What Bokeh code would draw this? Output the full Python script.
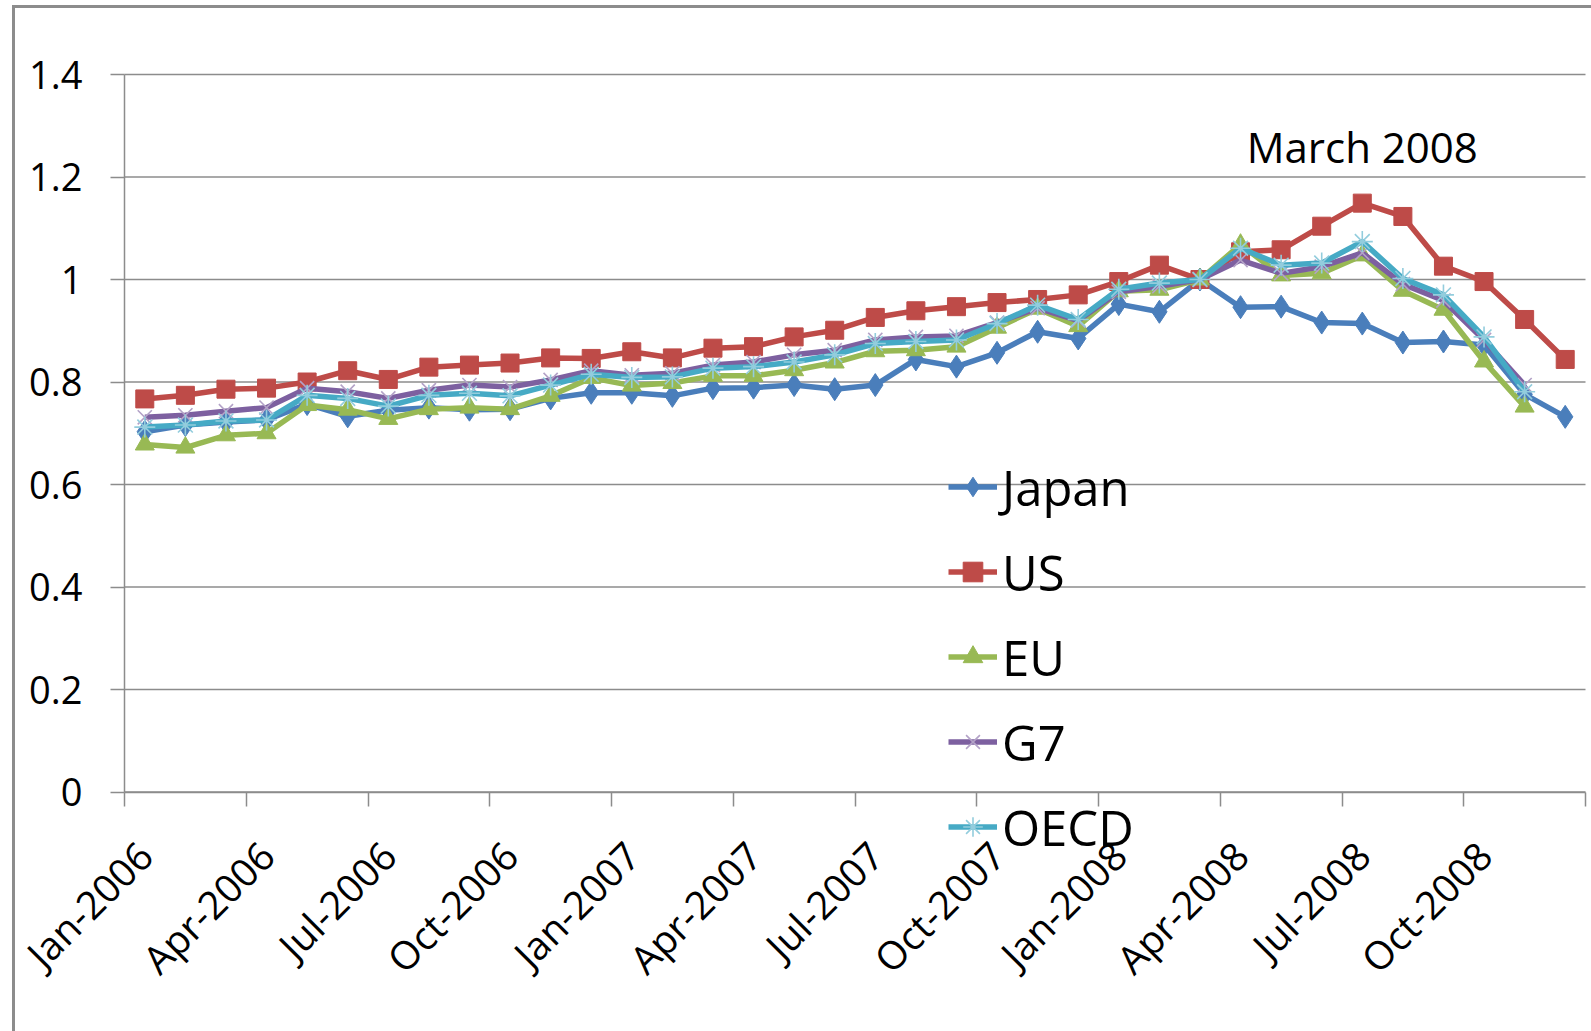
from math import pi
from bokeh.plotting import figure
from bokeh.models import (Range1d, FixedTicker, Legend, LegendItem, Label,
                          BoxAnnotation)
from bokeh.embed import file_html
from bokeh.resources import INLINE

# ---------------- data ----------------
months = ["Jan-2006", "Feb-2006", "Mar-2006", "Apr-2006", "May-2006", "Jun-2006",
          "Jul-2006", "Aug-2006", "Sep-2006", "Oct-2006", "Nov-2006", "Dec-2006",
          "Jan-2007", "Feb-2007", "Mar-2007", "Apr-2007", "May-2007", "Jun-2007",
          "Jul-2007", "Aug-2007", "Sep-2007", "Oct-2007", "Nov-2007", "Dec-2007",
          "Jan-2008", "Feb-2008", "Mar-2008", "Apr-2008", "May-2008", "Jun-2008",
          "Jul-2008", "Aug-2008", "Sep-2008", "Oct-2008", "Nov-2008", "Dec-2008"]

tick_labels = ["Jan-2006", "Apr-2006", "Jul-2006", "Oct-2006", "Jan-2007", "Apr-2007",
               "Jul-2007", "Oct-2007", "Jan-2008", "Apr-2008", "Jul-2008", "Oct-2008"]

japan = [0.703, 0.716, 0.722, 0.726, 0.757, 0.733, 0.745, 0.750, 0.746, 0.747, 0.768, 0.779,
         0.779, 0.773, 0.788, 0.789, 0.794, 0.786, 0.794, 0.844, 0.830, 0.857, 0.898, 0.885,
         0.952, 0.937, 1.000, 0.946, 0.947, 0.916, 0.914, 0.877, 0.879, 0.872, 0.776, 0.732]
us = [0.767, 0.774, 0.786, 0.788, 0.800, 0.822, 0.805, 0.829, 0.833, 0.837, 0.847, 0.846,
      0.859, 0.847, 0.866, 0.869, 0.888, 0.901, 0.926, 0.939, 0.947, 0.955, 0.961, 0.970,
      0.996, 1.028, 1.000, 1.054, 1.058, 1.104, 1.149, 1.123, 1.026, 0.996, 0.922, 0.844]
eu = [0.678, 0.672, 0.696, 0.700, 0.755, 0.746, 0.728, 0.747, 0.750, 0.747, 0.773, 0.808,
      0.793, 0.798, 0.812, 0.812, 0.823, 0.838, 0.860, 0.862, 0.869, 0.906, 0.943, 0.909,
      0.977, 0.980, 1.000, 1.068, 1.008, 1.012, 1.047, 0.978, 0.941, 0.840, 0.752]
g7 = [0.731, 0.735, 0.743, 0.750, 0.788, 0.781, 0.768, 0.784, 0.794, 0.790, 0.804, 0.822,
      0.813, 0.817, 0.833, 0.839, 0.853, 0.862, 0.882, 0.888, 0.890, 0.916, 0.944, 0.920,
      0.976, 0.987, 1.000, 1.038, 1.012, 1.025, 1.052, 0.991, 0.959, 0.882, 0.794]
oecd = [0.712, 0.716, 0.724, 0.726, 0.774, 0.768, 0.753, 0.774, 0.778, 0.773, 0.794, 0.815,
        0.809, 0.810, 0.827, 0.830, 0.839, 0.853, 0.875, 0.879, 0.882, 0.914, 0.950, 0.922,
        0.981, 0.993, 1.000, 1.061, 1.028, 1.032, 1.074, 1.002, 0.970, 0.888, 0.781]

y_ticks = [0, 0.2, 0.4, 0.6, 0.8, 1, 1.2, 1.4]
y_tick_labels = ["0", "0.2", "0.4", "0.6", "0.8", "1", "1.2", "1.4"]

series_names = ["Japan", "US", "EU", "G7", "OECD"]
series_values = [japan, us, eu, g7, oecd]

# ---------------- styles / layout ----------------
line_colors = ["#4a7ebb", "#be4b48", "#98b954", "#7d60a0", "#46aac5"]
marker_types = ["diamond", "square", "triangle", "x", "asterisk"]
marker_sizes = [23, 18, 19, 20, 21]
marker_fill = ["#4a7ebb", "#be4b48", "#98b954", "#b3a2c7", "#93cddd"]
marker_line = ["#4a7ebb", "#be4b48", "#98b954", "#b3a2c7", "#93cddd"]
marker_lw = [1, 1, 1, 1.6, 1.6]

GRID = "#8c8c8c"
FONT = "Open Sans"

W, H = 1591, 1031
# pixel layout of the plotting area inside the canvas
PX_LEFT, PX_RIGHT = 124.0, 1585.0      # x of first / last category boundary
PX_ZERO, PX_TOP = 791.5, 74.0          # y of value 0 and of value 1.4
n = len(months)
x_lo, x_hi = -0.5, n - 0.5
y_lo, y_hi = y_ticks[0], y_ticks[-1]
ppx = (PX_RIGHT - PX_LEFT) / (x_hi - x_lo)
ppy = (PX_ZERO - PX_TOP) / (y_hi - y_lo)
x_range = Range1d(x_lo - PX_LEFT / ppx, x_hi + (W - PX_RIGHT) / ppx)
y_range = Range1d(y_lo - (H - PX_ZERO) / ppy, y_hi + PX_TOP / ppy)

p = figure(width=W, height=H, output_backend="svg", toolbar_location=None,
           x_range=x_range, y_range=y_range,
           min_border_left=0, min_border_right=0, min_border_top=0,
           min_border_bottom=0)
p.outline_line_color = None
p.background_fill_color = "white"
p.border_fill_color = "white"
p.xgrid.visible = False
p.ygrid.visible = False

# horizontal gridlines spanning the category area only
p.segment(x0=[x_lo] * len(y_ticks), x1=[x_hi] * len(y_ticks), y0=y_ticks, y1=y_ticks,
          line_color=GRID, line_width=1.5)

renderers = []
for name, vals, lc, mt, ms, mf, ml, mlw in zip(series_names, series_values, line_colors,
                                               marker_types, marker_sizes, marker_fill,
                                               marker_line, marker_lw):
    xs = list(range(len(vals)))
    lr = p.line(xs, vals, line_color=lc, line_width=5.5, line_join="round")
    sr = p.scatter(xs, vals, marker=mt, size=ms, fill_color=mf, line_color=ml,
                   line_width=mlw)
    renderers.append((name, lr, sr))

# x axis (fixed at value 0)
major_pos = [months.index(l) for l in tick_labels]
minor_pos = [k - 0.5 for k in range(0, n + 1, 3)]
p.xaxis.fixed_location = 0
p.xaxis.bounds = (x_lo, x_hi)
p.xaxis.ticker = FixedTicker(ticks=major_pos, minor_ticks=minor_pos)
p.xaxis.major_label_overrides = {pos: lab for pos, lab in zip(major_pos, tick_labels)}
p.xaxis.major_label_orientation = pi / 4
p.xaxis.major_tick_line_color = None
p.xaxis.major_tick_out = 0
p.xaxis.major_tick_in = 0
p.xaxis.minor_tick_line_color = GRID
p.xaxis.minor_tick_line_width = 1.5
p.xaxis.minor_tick_out = 14
p.xaxis.minor_tick_in = 0
p.xaxis.axis_line_color = GRID
p.xaxis.axis_line_width = 1.5
p.xaxis.major_label_text_font = FONT
p.xaxis.major_label_text_font_size = "39px"
p.xaxis.major_label_text_color = "black"
p.xaxis.major_label_standoff = 42

# y axis (fixed at the first category boundary)
p.yaxis.fixed_location = x_lo
p.yaxis.bounds = (y_lo, y_hi)
p.yaxis.ticker = FixedTicker(ticks=y_ticks)
p.yaxis.major_label_overrides = {t: l for t, l in zip(y_ticks, y_tick_labels)}
p.yaxis.minor_tick_line_color = None
p.yaxis.major_tick_out = 14
p.yaxis.major_tick_in = 0
p.yaxis.major_tick_line_color = GRID
p.yaxis.major_tick_line_width = 1.5
p.yaxis.axis_line_color = GRID
p.yaxis.axis_line_width = 1.5
p.yaxis.major_label_text_font = FONT
p.yaxis.major_label_text_font_size = "38px"
p.yaxis.major_label_text_color = "black"
p.yaxis.major_label_standoff = 28

# legend
items = [LegendItem(label=nm, renderers=[lr, sr]) for nm, lr, sr in renderers]
legend = Legend(items=items, location=(948, 162), orientation="vertical",
                glyph_width=49, glyph_height=85, label_height=85, label_standoff=5,
                spacing=0, padding=0, margin=0, border_line_color=None,
                background_fill_alpha=0, label_text_font=FONT,
                label_text_font_size="49px", label_text_color="black")
p.add_layout(legend)

# annotation
p.add_layout(Label(x=30, y=1.26, text="March 2008", text_align="center",
                   text_baseline="alphabetic", text_font=FONT,
                   text_font_size="42px", text_color="black"))

# chart-area border (left and top edges)
for l, r, t, b in [(11.5, 14.5, 4.5, H), (11.5, W, 4.5, 7.5)]:
    p.add_layout(BoxAnnotation(left=l, right=r, top=t, bottom=b,
                               left_units="canvas", right_units="canvas",
                               top_units="canvas", bottom_units="canvas",
                               fill_color="#8c8c8c", fill_alpha=1, line_color=None,
                               level="overlay"))

open("out.html", "w").write(file_html(p, INLINE))
